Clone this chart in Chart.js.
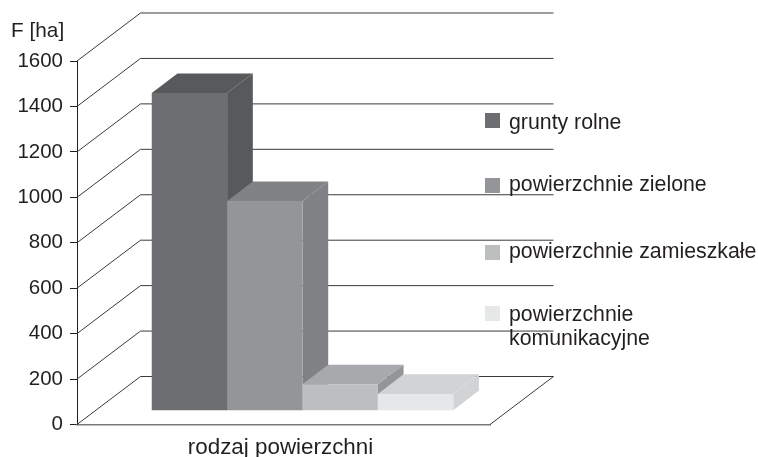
<!DOCTYPE html>
<html>
<head>
<meta charset="utf-8">
<style>
  html, body { margin: 0; padding: 0; background: #fff; }
  canvas { display: block; }
</style>
<script src="https://cdn.jsdelivr.net/npm/chart.js@4"></script>
</head>
<body>
<canvas id="chart" width="758" height="457"></canvas>
<script>
/* data */
var categories  = ['rodzaj powierzchni'];
var seriesNames = ['grunty rolne', 'powierzchnie zielone', 'powierzchnie zamieszkałe', ['powierzchnie', 'komunikacyjne']];
var seriesValues = [1398, 923, 116, 74];
var yUnit = 'F [ha]';

var frontColors = ['#6d6e71', '#939598', '#bcbec0', '#e6e7e8'];
var topColors   = ['#58595b', '#808285', '#a7a9ac', '#d1d3d4'];
var sideColors  = ['#58595b', '#808285', '#939598', '#d1d3d4'];

var FONT = '"Liberation Sans", Arial, sans-serif';
var INK  = '#231f20';

/* wall depth and bar depth, in px */
var WALL = { dx: 63.5, dy: 48 };
var BAR  = { dx: 25.7, dy: 19.6 };
var BAR_SHIFT = { dx: 19, dy: -13.8 };

/* legend rows: swatch top and text baselines */
var LEGEND_X = 485;
var LEGEND_TOPS = [113, 178, 245, 306];
var LEGEND_BASE = [[129], [191], [258], [321, 345]];

var walls3d = {
  id: 'walls3d',
  beforeDatasetsDraw: function(chart) {
    var ctx = chart.ctx, y = chart.scales.y, a = chart.chartArea;
    ctx.save();
    ctx.strokeStyle = '#3a3a3c';
    ctx.lineWidth = 1;
    y.ticks.forEach(function(t) {
      var py = y.getPixelForValue(t.value);
      ctx.beginPath();
      ctx.moveTo(a.left, py);
      ctx.lineTo(a.left + WALL.dx, py - WALL.dy);
      ctx.lineTo(a.right + WALL.dx, py - WALL.dy);
      if (t.value === 0) ctx.lineTo(a.right, py);
      ctx.stroke();
    });
    ctx.restore();

    /* left to right, so each bar covers the side of the one before it */
    chart.data.datasets.forEach(function(ds, i) {
      var meta = chart.getDatasetMeta(i), el = meta.data[0];
      var l = el.x - el.width / 2, r = el.x + el.width / 2;
      ctx.save();
      ctx.translate(BAR_SHIFT.dx, BAR_SHIFT.dy);
      /* top */
      ctx.fillStyle = topColors[i];
      ctx.beginPath();
      ctx.moveTo(l, el.y);
      ctx.lineTo(l + BAR.dx, el.y - BAR.dy);
      ctx.lineTo(r + BAR.dx, el.y - BAR.dy);
      ctx.lineTo(r, el.y);
      ctx.closePath();
      ctx.fill();
      /* side */
      ctx.fillStyle = sideColors[i];
      ctx.beginPath();
      ctx.moveTo(r, el.y);
      ctx.lineTo(r + BAR.dx, el.y - BAR.dy);
      ctx.lineTo(r + BAR.dx, el.base - BAR.dy);
      ctx.lineTo(r, el.base);
      ctx.closePath();
      ctx.fill();
      meta.controller.draw();
      ctx.restore();
    });
  },
  /* already drawn above */
  beforeDatasetDraw: function() { return false; },
  afterDraw: function(chart) {
    var ctx = chart.ctx;
    ctx.save();
    ctx.fillStyle = INK;
    ctx.textAlign = 'left';
    ctx.textBaseline = 'alphabetic';
    ctx.font = '20.8px ' + FONT;
    ctx.fillText(yUnit, 11, 37);
    ctx.font = '21.3px ' + FONT;
    seriesNames.forEach(function(name, i) {
      ctx.fillStyle = frontColors[i];
      ctx.fillRect(LEGEND_X, LEGEND_TOPS[i], 15, 15);
      ctx.fillStyle = INK;
      [].concat(name).forEach(function(line, k) {
        ctx.fillText(line, LEGEND_X + 24, LEGEND_BASE[i][k]);
      });
    });
    ctx.restore();
  }
};

new Chart(document.getElementById('chart'), {
  type: 'bar',
  data: {
    labels: categories,
    datasets: seriesValues.map(function(v, i) {
      return {
        label: [].concat(seriesNames[i]).join(' '),
        data: [v],
        backgroundColor: frontColors[i],
        barPercentage: 1,
        categoryPercentage: 0.73
      };
    })
  },
  options: {
    responsive: false,
    animation: false,
    layout: { padding: { top: 61, right: 268, left: 0, bottom: 0 } },
    plugins: { legend: { display: false }, tooltip: { enabled: false } },
    scales: {
      x: {
        afterFit: function(s) { s.height = 32.5; },
        grid: { display: false },
        border: { display: true, color: '#77787b', width: 1.5 },
        ticks: { color: INK, font: { family: FONT, size: 22.4 }, padding: 2, labelOffset: -3 }
      },
      y: {
        min: 0,
        max: 1600,
        afterFit: function(s) { s.width = 77; },
        grid: { drawOnChartArea: false, drawTicks: true, tickLength: 7, color: '#231f20' },
        border: { display: true, color: '#231f20' },
        ticks: {
          stepSize: 200,
          color: INK,
          font: { family: FONT, size: 20.5 },
          padding: 7,
          callback: function(v) { return String(v); }
        }
      }
    }
  },
  plugins: [walls3d]
});
</script>
</body>
</html>
